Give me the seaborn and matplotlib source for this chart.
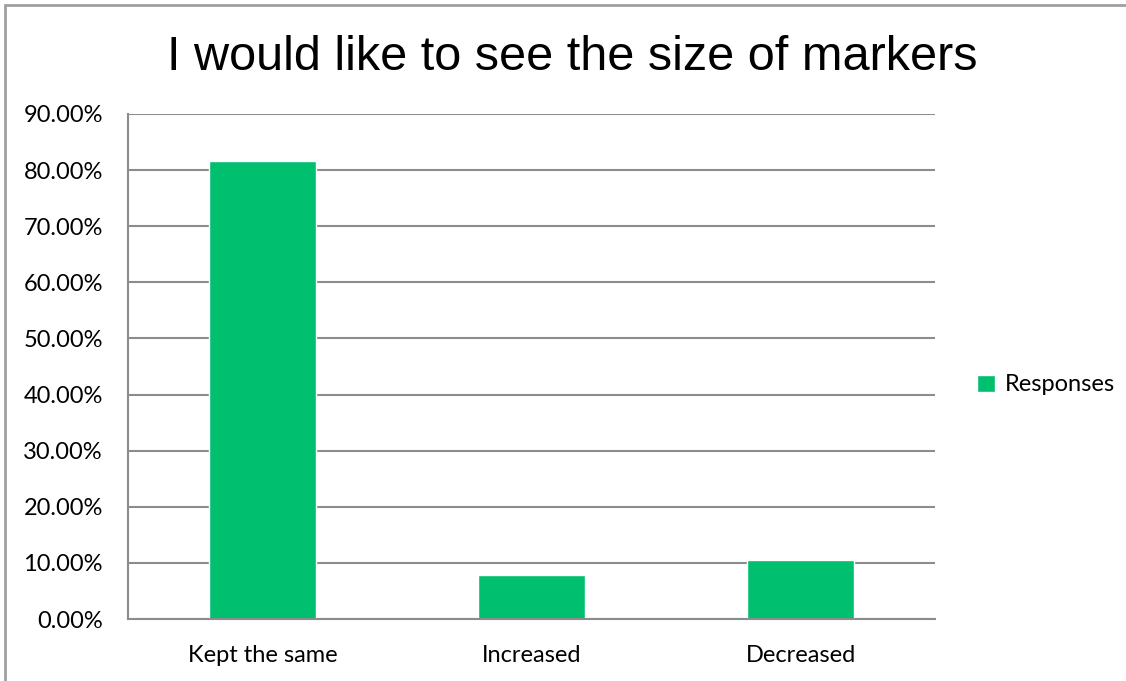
import numpy as np
import pandas as pd
import seaborn as sns
import matplotlib.pyplot as plt
from matplotlib.patches import Rectangle
from matplotlib.ticker import FuncFormatter, FixedLocator

categories = ['Kept the same', 'Increased', 'Decreased']
responses = [81.58, 7.89, 10.53]
yticks = [0, 10, 20, 30, 40, 50, 60, 70, 80, 90]

bar_color = '#00BF6F'
grid_color = '#8C8C8C'

sns.set_style('white')
plt.rcParams['font.family'] = ['Lato', 'DejaVu Sans']
plt.rcParams['text.color'] = 'black'
plt.rcParams['xtick.labelcolor'] = 'black'
plt.rcParams['ytick.labelcolor'] = 'black'

df = pd.DataFrame({'answer': categories, 'pct': responses})

fig = plt.figure(figsize=(11.26, 6.81), dpi=100)
ax = fig.add_axes([128 / 1126, 1 - 619 / 681, (935 - 128) / 1126, (619 - 114) / 681])

sns.barplot(data=df, x='answer', y='pct', color=bar_color, width=0.4,
            saturation=1, ax=ax, label='Responses')

ax.set_ylim(0, 90)
ax.set_xlim(-0.5, 2.5)
ax.set_yticks(yticks)
ax.yaxis.set_major_formatter(FuncFormatter(lambda v, p: '{:.2f}%'.format(v)))
ax.grid(axis='y', color=grid_color, linewidth=1.5)
ax.set_axisbelow(True)
ax.set_xlabel('')
ax.set_ylabel('')

for s in ['top', 'right']:
    ax.spines[s].set_visible(False)
for s in ['left', 'bottom']:
    ax.spines[s].set_color(grid_color)
    ax.spines[s].set_linewidth(1.5)

ax.tick_params(axis='y', length=7, width=1.5, color=grid_color, labelsize=17, pad=11)
ax.tick_params(axis='x', which='major', length=0, labelsize=17, pad=19)
ax.xaxis.set_minor_locator(FixedLocator([-0.5, 0.5, 1.5, 2.5]))
ax.tick_params(axis='x', which='minor', length=7, width=1.5, color=grid_color, direction='out')

fig.text(572 / 1126, 1 - 57 / 681, 'I would like to see the size of markers',
         ha='center', va='center', fontsize=35, color='black',
         family=['Liberation Sans', 'DejaVu Sans'])

ax.legend(loc='center left', bbox_to_anchor=(977 / 1126, 1 - 385 / 681),
          bbox_transform=fig.transFigure, frameon=False, fontsize=17,
          handlelength=0.75, handleheight=0.75, handletextpad=0.45,
          borderpad=0, borderaxespad=0)

# outer chart border (cut off at right and bottom)
fig.patches.append(Rectangle((5 / 1126, -0.1), 1.2, (681 - 5) / 681 + 0.1,
                             transform=fig.transFigure, fill=False,
                             edgecolor='#A0A0A0', linewidth=2))

fig.savefig('out.png', dpi=100)
